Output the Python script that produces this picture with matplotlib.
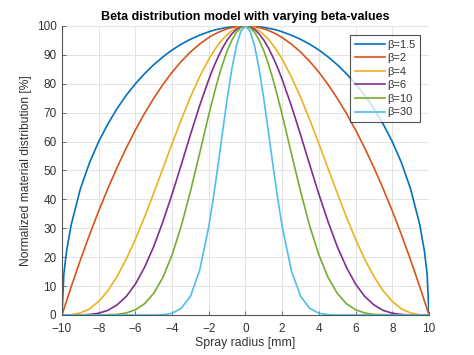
import matplotlib
matplotlib.use("Agg")
import matplotlib.pyplot as plt

plt.rcParams['font.family'] = ['Liberation Sans', 'DejaVu Sans']

# radius positions [mm]
radius = [-10, -9.9, -9.75, -9.5, -9, -8.5, -8, -7.5, -7, -6.5, -6, -5.5, -5, -4.5, -4, -3.5, -3, -2.5,
          -2, -1.75, -1.5, -1.25, -1, -0.75, -0.5, -0.25, 0, 0.25, 0.5, 0.75, 1, 1.25, 1.5, 1.75, 2,
          2.5, 3, 3.5, 4, 4.5, 5, 5.5, 6, 6.5, 7, 7.5, 8, 8.5, 9, 9.5, 9.75, 9.9, 10]

b15 = [0, 14.1, 22.2, 31.2, 43.6, 52.7, 60.0, 66.1, 71.4, 76.0, 80.0, 83.5, 86.6, 89.3, 91.7, 93.7, 95.4, 96.8,
       98.0, 98.5, 98.9, 99.2, 99.5, 99.7, 99.9, 99.97, 100, 99.97, 99.9, 99.7, 99.5, 99.2, 98.9, 98.5, 98.0,
       96.8, 95.4, 93.7, 91.7, 89.3, 86.6, 83.5, 80.0, 76.0, 71.4, 66.1, 60.0, 52.7, 43.6, 31.2, 22.2, 14.1, 0]
b2 = [0, 2.0, 4.9, 9.75, 19.0, 27.75, 36.0, 43.75, 51.0, 57.75, 64.0, 69.75, 75.0, 79.75, 84.0, 87.75, 91.0, 93.75,
      96.0, 96.94, 97.75, 98.44, 99.0, 99.44, 99.75, 99.94, 100, 99.94, 99.75, 99.44, 99.0, 98.44, 97.75, 96.94, 96.0,
      93.75, 91.0, 87.75, 84.0, 79.75, 75.0, 69.75, 64.0, 57.75, 51.0, 43.75, 36.0, 27.75, 19.0, 9.75, 4.9, 2.0, 0]
b4 = [0, 0, 0.01, 0.09, 0.7, 2.1, 4.7, 8.4, 13.3, 19.3, 26.2, 33.9, 42.2, 50.7, 59.3, 67.6, 75.4, 82.4,
      88.5, 91.1, 93.4, 95.4, 97.0, 98.3, 99.25, 99.8, 100, 99.8, 99.25, 98.3, 97.0, 95.4, 93.4, 91.1, 88.5,
      82.4, 75.4, 67.6, 59.3, 50.7, 42.2, 33.9, 26.2, 19.3, 13.3, 8.4, 4.7, 2.1, 0.7, 0.09, 0.01, 0, 0]
b6 = [0, 0, 0, 0, 0.0, 0.2, 0.6, 1.6, 3.5, 6.4, 10.7, 16.5, 23.7, 32.3, 41.8, 52.0, 62.4, 72.4,
      81.5, 85.6, 89.2, 92.4, 95.1, 97.2, 98.8, 99.7, 100, 99.7, 98.8, 97.2, 95.1, 92.4, 89.2, 85.6, 81.5,
      72.4, 62.4, 52.0, 41.8, 32.3, 23.7, 16.5, 10.7, 6.4, 3.5, 1.6, 0.6, 0.2, 0.0, 0, 0, 0, 0]
b10 = [0, 0, 0, 0, 0, 0, 0, 0.1, 0.2, 0.7, 1.8, 3.9, 7.5, 13.0, 20.8, 30.8, 42.8, 55.9,
       69.3, 75.6, 81.5, 86.8, 91.4, 95.0, 97.8, 99.4, 100, 99.4, 97.8, 95.0, 91.4, 86.8, 81.5, 75.6, 69.3,
       55.9, 42.8, 30.8, 20.8, 13.0, 7.5, 3.9, 1.8, 0.7, 0.2, 0.1, 0, 0, 0, 0, 0, 0, 0]
b30 = [0, 0, 0, 0, 0, 0, 0, 0, 0, 0, 0, 0, 0, 0.1, 0.6, 2.3, 6.5, 15.4,
       30.6, 40.6, 51.7, 63.3, 74.7, 84.9, 93.0, 98.2, 100, 98.2, 93.0, 84.9, 74.7, 63.3, 51.7, 40.6, 30.6,
       15.4, 6.5, 2.3, 0.6, 0.1, 0, 0, 0, 0, 0, 0, 0, 0, 0, 0, 0, 0, 0]

labels = ["β=1.5", "β=2", "β=4", "β=6", "β=10", "β=30"]
values = [b15, b2, b4, b6, b10, b30]
colors = ["#0072BD", "#D95319", "#EDB120", "#7E2F8E", "#77AC30", "#4DBEEE"]

xticks = list(range(-10, 11, 2))
yticks = list(range(0, 101, 10))

fig = plt.figure(figsize=(4.74, 3.55), dpi=100)
ax = fig.add_axes([0.1308, 0.1127, 0.7742, 0.8141])

for label, vals, color in zip(labels, values, colors):
    ax.plot(radius, vals, color=color, lw=1.2, label=label)

ax.set_xlim(-10, 10)
ax.set_ylim(0, 100)
ax.set_xticks(xticks)
ax.set_yticks(yticks)
ax.grid(True, color='#e3e3e3', lw=0.7)
ax.set_axisbelow(True)
for s in ['top', 'right']:
    ax.spines[s].set_visible(False)
for s in ['left', 'bottom']:
    ax.spines[s].set_color('#555555')
    ax.spines[s].set_linewidth(0.8)
ax.tick_params(direction='in', length=3, width=0.6, colors='#555555', labelcolor='#333333',
               labelsize=8.5)
ax.tick_params(axis='y', pad=4)
ax.tick_params(axis='x', pad=6)
ax.set_xlabel('Spray radius [mm]', fontsize=8.8, color='#333333', labelpad=1)
ax.set_ylabel('Normalized material distribution [%]', fontsize=8.7, color='#333333', labelpad=3)
ax.set_title('Beta distribution model with varying beta-values', fontsize=9, fontweight='bold',
             color='black', pad=4)

leg = ax.legend(loc='upper right', bbox_to_anchor=(0.976, 0.968), fontsize=8, frameon=True,
                fancybox=False, edgecolor='#262626', handlelength=2.7, handletextpad=0.25,
                labelspacing=0.32, borderpad=0.4, borderaxespad=0)
leg.get_frame().set_linewidth(0.8)
for t in leg.get_texts():
    t.set_color('#333333')

fig.savefig('out.png', dpi=100)
